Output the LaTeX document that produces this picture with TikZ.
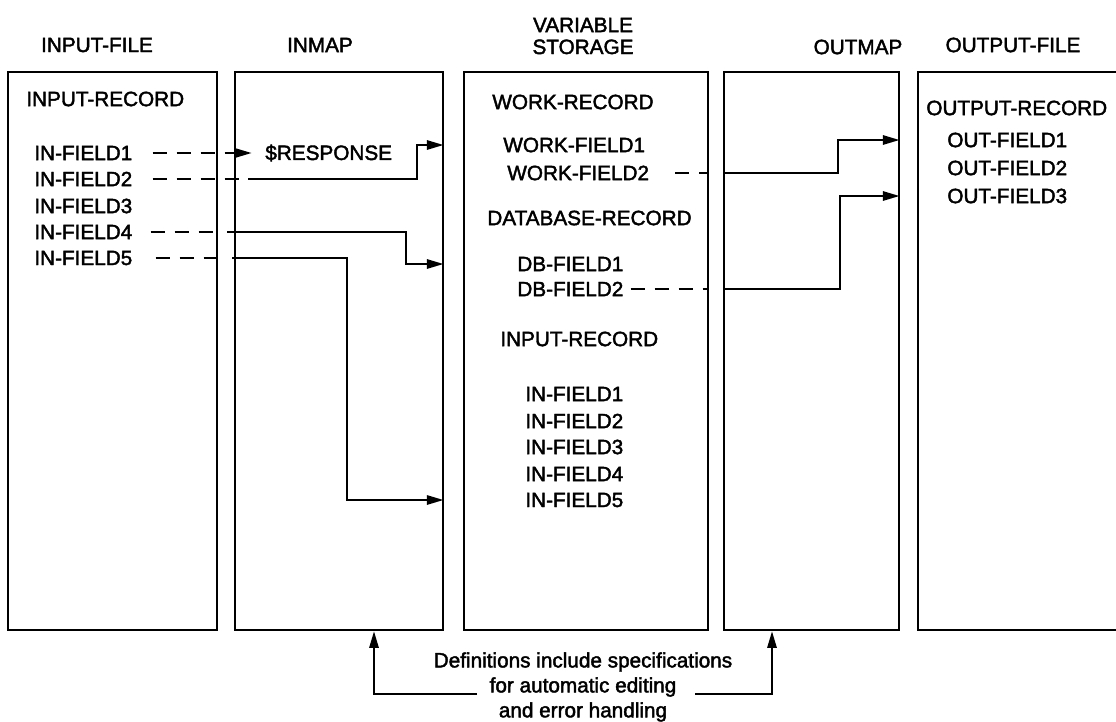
\documentclass[tikz,border=0pt]{standalone}
\usepackage{fontspec}
\setmainfont{Liberation Sans}[FakeBold=2]
\usepackage{tikz}
\usetikzlibrary{arrows.meta,positioning,fit,calc}

\begin{document}
\begin{tikzpicture}[
    x=0.02cm, y=-0.02cm,
    frame/.style={draw, line width=1pt, inner sep=0pt},
    lbl/.style={inner sep=0pt, anchor=west, font=\fontsize{11.8}{14}\selectfont},
    hdr/.style={inner sep=0pt, align=center, font=\fontsize{11.8}{12.5}\selectfont},
    note/.style={inner sep=0pt, align=center, font=\fontsize{11.8}{14.2}\selectfont},
    dsh/.style={line width=1.3pt, dash pattern=on 0.28cm off 0.2cm},
    link/.style={line width=1.6pt, -{Triangle[length=0.34cm, width=0.18cm]}}
  ]
    \useasboundingbox (0,0) rectangle (1116,721);

    % columns
    \node[frame, fit={(8,72) (217,630)}] (infile) {};
    \node[frame, fit={(235,72) (443,630)}] (inmap) {};
    \node[frame, fit={(464,72) (708,630)}] (varst) {};
    \node[frame, fit={(724,72) (899,630)}] (outmap) {};
    \node[inner sep=0pt, fit={(918,72) (1116,630)}] (outfile) {};
    \draw[line width=1pt] (outfile.north east) -| (outfile.south west) -- (outfile.south east);

    \node[hdr] (hinfile) at (97,45) {INPUT-FILE};
    \node[hdr] (hinmap) at (320,45) {INMAP};
    \node[hdr] (hvarst) at (583,36) {VARIABLE\\STORAGE};
    \node[hdr] (houtmap) at (858,47) {OUTMAP};
    \node[hdr] (houtfile) at (1013,45) {OUTPUT-FILE};

    % input file
    \node[lbl] (irec) at (26,99) {INPUT-RECORD};
    \node[lbl] (f1) at (34,153) {IN-FIELD1};
    \node[lbl] (f2) at (34,179) {IN-FIELD2};
    \node[lbl] (f3) at (34,206) {IN-FIELD3};
    \node[lbl] (f4) at (34,232) {IN-FIELD4};
    \node[lbl] (f5) at (34,258) {IN-FIELD5};

    \node[lbl] (resp) at (265,153) {\$RESPONSE};

    % variable storage
    \node[lbl] (wrec) at (492,102) {WORK-RECORD};
    \node[lbl] (wf1) at (503,145) {WORK-FIELD1};
    \node[lbl] (wf2) at (507,173) {WORK-FIELD2};
    \node[lbl] (dbrec) at (487,218) {DATABASE-RECORD};
    \node[lbl] (db1) at (517,264) {DB-FIELD1};
    \node[lbl] (db2) at (517,289) {DB-FIELD2};
    \node[lbl] (vrec) at (500,339) {INPUT-RECORD};
    \node[lbl] (vf1) at (525,394) {IN-FIELD1};
    \node[lbl] (vf2) at (525,421) {IN-FIELD2};
    \node[lbl] (vf3) at (525,447) {IN-FIELD3};
    \node[lbl] (vf4) at (525,474) {IN-FIELD4};
    \node[lbl] (vf5) at (525,500) {IN-FIELD5};

    % output file
    \node[lbl] (orec) at (926,108) {OUTPUT-RECORD};
    \node[lbl] (of1) at (947,140) {OUT-FIELD1};
    \node[lbl] (of2) at (947,168) {OUT-FIELD2};
    \node[lbl] (of3) at (947,196) {OUT-FIELD3};

    \coordinate (s2) at (248,179);
    \coordinate (s4) at (227,232);
    \coordinate (s5) at (232,258);
    \coordinate (k2) at (417,0);
    \coordinate (k4) at (406,0);
    \coordinate (k5) at (347,0);
    \coordinate (k6) at (838,0);
    \coordinate (k7) at (840,0);

    % inmap
    \draw[dsh, link, shorten <=0.4cm, shorten >=0.26cm] (f1.east) -- (resp.west);
    \draw[dsh, shorten <=0.4cm, shorten >=0.1cm] (f2.east) -- (s2);
    \draw[link] (s2) -| (k2 |- wf1) -- (inmap.east |- wf1);
    \draw[dsh, shorten <=0.36cm, shorten >=0.2cm] (f4.east) -- (s4);
    \draw[link] (s4) -| (k4 |- db1) -- (inmap.east |- db1);
    \draw[dsh, shorten <=0.46cm, shorten >=0.2cm] (f5.east) -- (s5);
    \draw[link] (s5) -| (k5 |- vf5) -- (inmap.east |- vf5);

    % outmap
    \draw[dsh, shorten <=0.52cm] (wf2.east) -- (varst.east |- wf2);
    \draw[link] (outmap.west |- wf2) -| (k6 |- of1) -- (outmap.east |- of1);
    \draw[dsh, shorten <=0.14cm] (db2.east) -- (varst.east |- db2);
    \draw[link] (outmap.west |- db2) -| (k7 |- of3) -- (outmap.east |- of3);

    % note
    \node[note] (defs) at (583,687) {Definitions include specifications\\for automatic editing\\and error handling};
    \coordinate (bl) at (477,694);
    \coordinate (br) at (695,694);
    \coordinate (e1) at (374,694);
    \coordinate (e2) at (772,694);
    \draw[link] (bl) -- (e1) -- (e1 |- inmap.south);
    \draw[link] (br) -- (e2) -- (e2 |- outmap.south);
  \end{tikzpicture}
\end{document}
